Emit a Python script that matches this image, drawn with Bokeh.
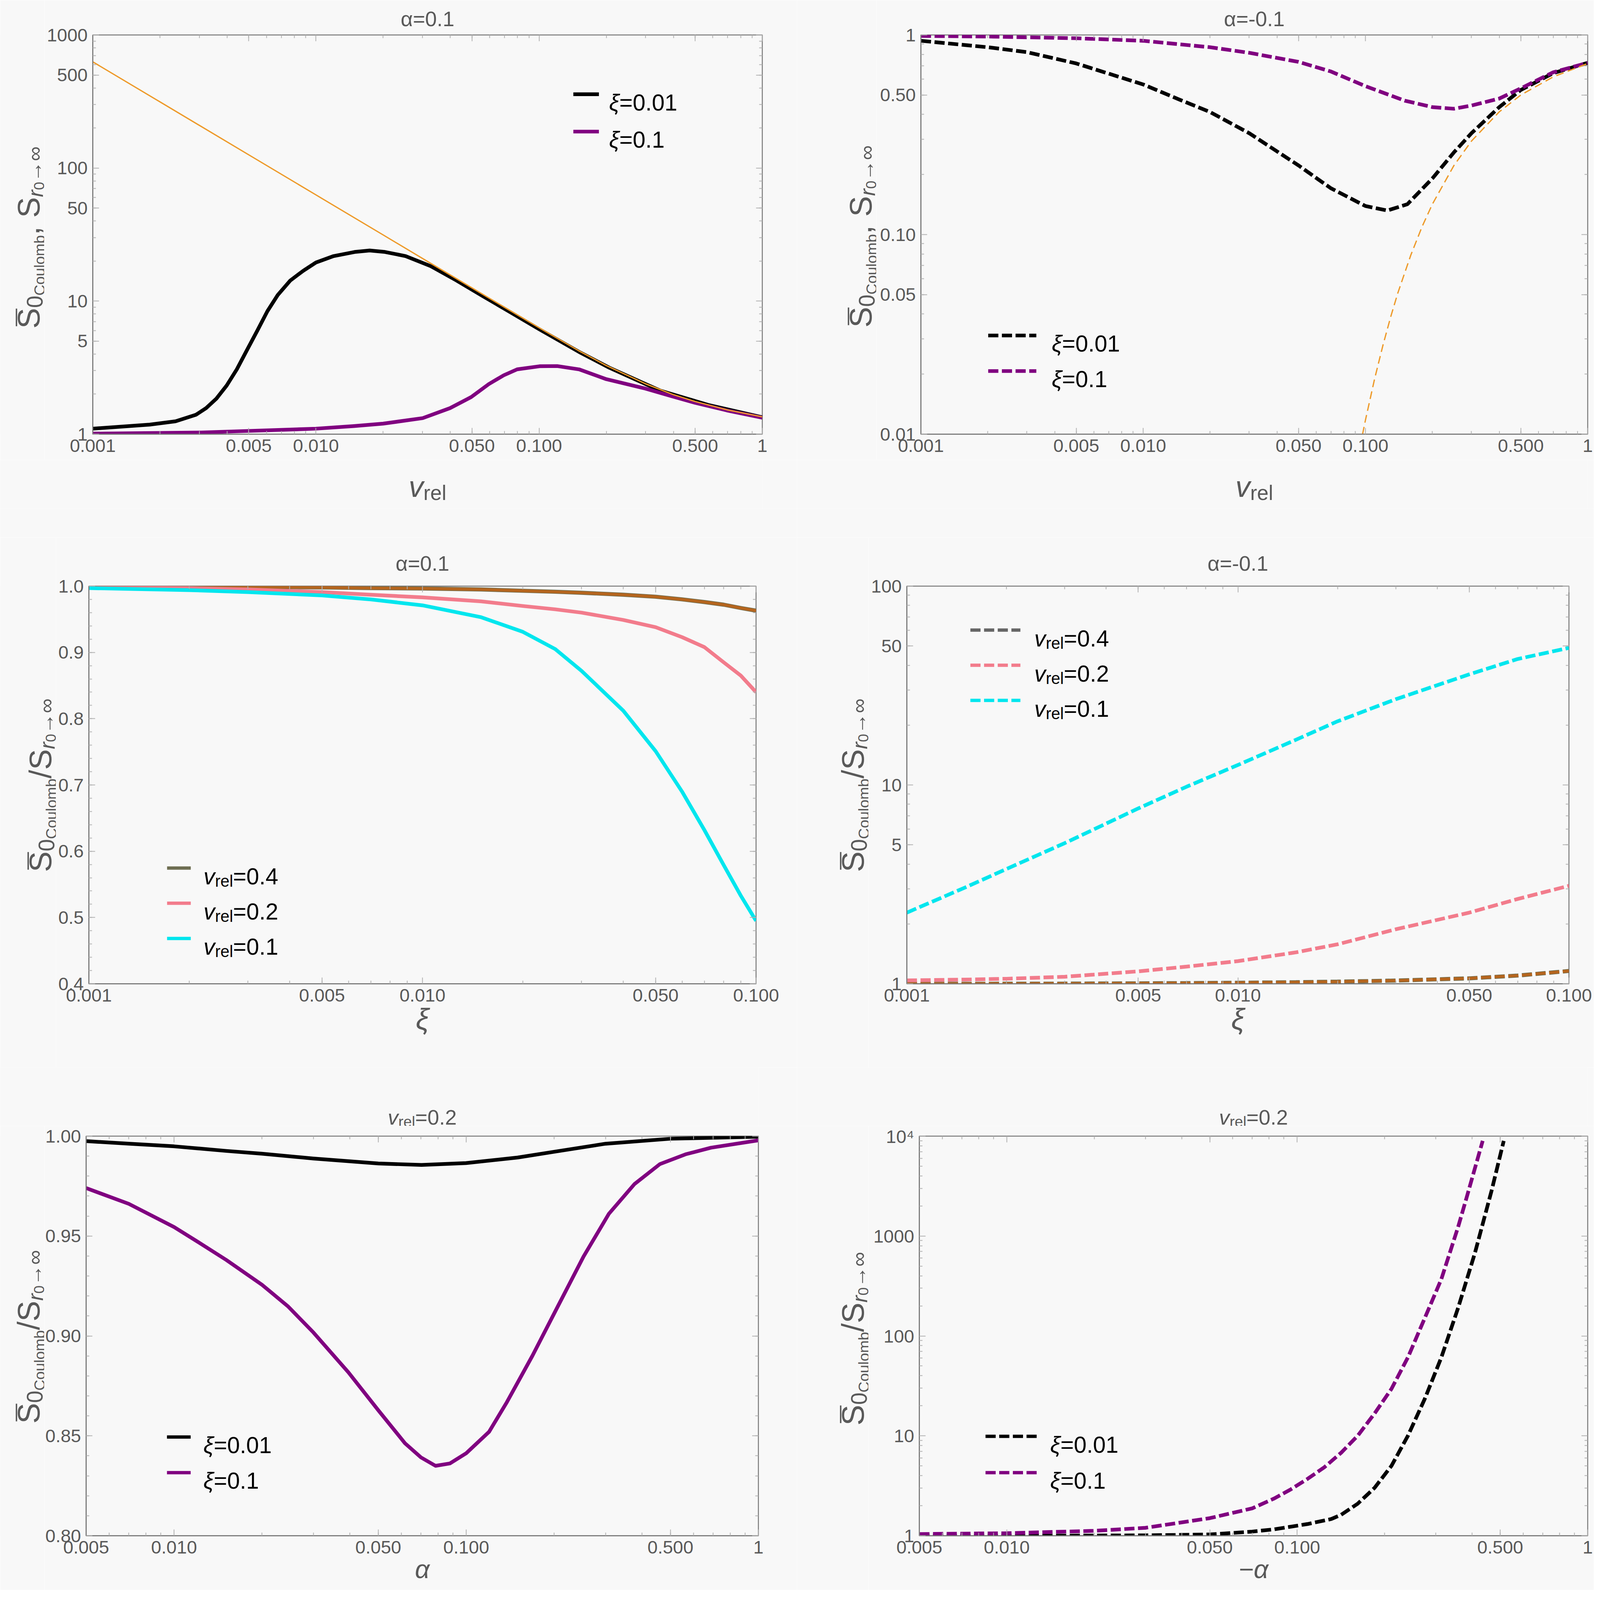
import math
from bokeh.plotting import figure
from bokeh.models import (Label, Arrow, FixedTicker, LogAxis, LinearAxis, Range1d, Title,
                          CustomJSTickFormatter)
from bokeh.layouts import column, row
from bokeh.embed import file_html
from bokeh.resources import INLINE

# ============================ DATA ============================
# Panel 1: alpha = 0.1, S vs v_rel
P1_V_SOMM = [0.001, 0.002, 0.005, 0.01, 0.02, 0.03, 0.05, 0.07, 0.1, 0.15, 0.2, 0.3, 0.4, 0.5, 0.7, 1.0]
P1_S_SOMM = [628.3, 314.2, 125.7, 62.83, 31.42, 20.94, 12.57, 8.98, 6.30, 4.25, 3.28, 2.39, 1.98, 1.76, 1.52, 1.35]
P1_V_XI001 = [0.001, 0.0018, 0.00235, 0.0029, 0.00322, 0.00358, 0.00398, 0.00442, 0.00491, 0.00546,
              0.00606, 0.00674, 0.00768, 0.00877, 0.01, 0.012, 0.0149, 0.0174, 0.0204, 0.0252,
              0.0327, 0.0426, 0.0554, 0.0721, 0.1, 0.151, 0.207, 0.35, 0.572, 1.0]
P1_S_XI001 = [1.10, 1.18, 1.25, 1.40, 1.57, 1.85, 2.32, 3.07, 4.29, 6.00,
              8.40, 11.1, 14.3, 16.9, 19.5, 21.8, 23.4, 24.0, 23.4, 21.8,
              18.3, 14.3, 11.0, 8.5, 6.15, 4.15, 3.15, 2.12, 1.66, 1.34]
P1_V_XI01 = [0.001, 0.00306, 0.00518, 0.01, 0.0148, 0.02, 0.0301, 0.0399, 0.0496, 0.0595, 0.0694,
             0.0797, 0.1005, 0.1205, 0.151, 0.2, 0.3, 0.388, 0.5, 0.692, 1.0]
P1_S_XI01 = [1.01, 1.03, 1.06, 1.10, 1.15, 1.20, 1.32, 1.57, 1.90, 2.38, 2.77,
             3.07, 3.24, 3.25, 3.07, 2.59, 2.20, 1.94, 1.72, 1.51, 1.33]

# Panel 2: alpha = -0.1, S vs v_rel
P2_V_SOMM = [0.097, 0.1, 0.11, 0.12, 0.13, 0.14, 0.16, 0.18, 0.2, 0.25, 0.3, 0.4, 0.5, 0.7, 1.0]
P2_S_SOMM = [0.00996, 0.01175, 0.01895, 0.0280, 0.0388, 0.0511, 0.0789, 0.1098, 0.1419, 0.2216,
             0.294, 0.412, 0.500, 0.617, 0.719]
P2_V_XI001 = [0.001, 0.002, 0.003, 0.005, 0.01, 0.0144, 0.02, 0.03, 0.05, 0.0697, 0.1, 0.1256,
              0.1545, 0.2, 0.25, 0.3, 0.4, 0.5, 0.7, 1.0]
P2_S_XI001 = [0.935, 0.868, 0.820, 0.720, 0.565, 0.477, 0.411, 0.322, 0.222, 0.171, 0.139, 0.132,
              0.142, 0.191, 0.258, 0.322, 0.435, 0.53, 0.644, 0.725]
P2_V_XI01 = [0.001, 0.002, 0.005, 0.01, 0.02, 0.03, 0.05, 0.07, 0.1, 0.15, 0.2, 0.25, 0.3, 0.4,
             0.5, 0.7, 1.0]
P2_S_XI01 = [0.989, 0.982, 0.963, 0.935, 0.868, 0.814, 0.733, 0.656, 0.554, 0.469, 0.435, 0.427,
             0.443, 0.48, 0.54, 0.65, 0.725]

# Panel 3: alpha = 0.1, ratio vs xi
P3_XI = [0.001, 0.002, 0.003, 0.005, 0.007, 0.01, 0.015, 0.02, 0.025, 0.03, 0.04, 0.05, 0.06,
         0.07, 0.08, 0.09, 0.1]
P3_V04 = [1.000, 0.9995, 0.999, 0.998, 0.997, 0.9965, 0.995, 0.993, 0.9915, 0.990, 0.987, 0.984,
          0.980, 0.976, 0.972, 0.967, 0.9630]
P3_V02 = [0.999, 0.997, 0.995, 0.991, 0.987, 0.983, 0.977, 0.970, 0.965, 0.960, 0.949, 0.938,
          0.923, 0.908, 0.885, 0.865, 0.840]
P3_V01 = [0.997, 0.994, 0.991, 0.986, 0.980, 0.971, 0.953, 0.931, 0.905, 0.872, 0.812, 0.751,
          0.690, 0.632, 0.579, 0.533, 0.495]

# Panel 4: alpha = -0.1, ratio vs xi
P4_XI = [0.001, 0.0015, 0.002, 0.003, 0.005, 0.007, 0.01, 0.015, 0.02, 0.03, 0.05, 0.07, 0.1]
P4_V04 = [1.0, 1.0, 1.001, 1.002, 1.005, 1.008, 1.012, 1.018, 1.025, 1.038, 1.065, 1.10, 1.16]
P4_V02 = [1.04, 1.05, 1.06, 1.085, 1.155, 1.22, 1.30, 1.44, 1.58, 1.88, 2.28, 2.67, 3.11]
P4_V01 = [2.28, 3.05, 3.78, 5.10, 7.62, 9.8, 12.6, 16.9, 20.9, 27.0, 36.0, 43.0, 48.9]

# Panel 5: v_rel = 0.2, ratio vs alpha
P5_A_XI001 = [0.005, 0.00706, 0.01, 0.0151, 0.02, 0.0299, 0.05, 0.0703, 0.0998, 0.15, 0.2005,
              0.2997, 0.5, 1.0]
P5_R_XI001 = [0.9975, 0.9962, 0.9949, 0.9926, 0.9912, 0.9888, 0.9863, 0.9856, 0.9865, 0.9893,
              0.9922, 0.9962, 0.9987, 0.9997]
P5_A_XI01 = [0.005, 0.007, 0.01, 0.0123, 0.0151, 0.02, 0.0245, 0.03, 0.0395, 0.05, 0.0617, 0.07,
             0.0785, 0.088, 0.1, 0.1197, 0.1378, 0.1685, 0.206, 0.252, 0.308, 0.3765, 0.46,
             0.563, 0.688, 1.0]
P5_R_XI01 = [0.974, 0.9661, 0.9545, 0.9463, 0.938, 0.9256, 0.9149, 0.9017, 0.8818, 0.8628, 0.8463,
             0.8392, 0.835, 0.8362, 0.8413, 0.852, 0.8669, 0.8901, 0.9149, 0.9397, 0.9612, 0.976,
             0.986, 0.9909, 0.9942, 0.9979]

# Panel 6: v_rel = 0.2, ratio vs -alpha
P6_A_XI001 = [0.005, 0.01, 0.02, 0.03, 0.05, 0.07, 0.0833, 0.1085, 0.131, 0.1416, 0.1614, 0.1845,
              0.211, 0.2404, 0.2746, 0.3134, 0.358, 0.409, 0.467, 0.514]
P6_R_XI001 = [1.0, 1.0, 1.005, 1.01, 1.03, 1.10, 1.16, 1.31, 1.47, 1.62, 2.09, 3.01, 5.0, 10.0,
              23.3, 60.9, 191, 676, 2858, 8970]
P6_A_XI01 = [0.005, 0.01, 0.02, 0.03, 0.05, 0.07, 0.0833, 0.095, 0.1085, 0.124, 0.1416, 0.1614,
             0.1845, 0.211, 0.2404, 0.2746, 0.3134, 0.358, 0.3825, 0.435]
P6_R_XI01 = [1.04, 1.06, 1.12, 1.2, 1.5, 1.88, 2.36, 2.91, 3.71, 4.85, 6.77, 10.0, 16.7, 29.5,
             60.9, 150, 370, 1233, 2400, 8970]

# Tick labels
TK_V = [0.001, 0.005, 0.01, 0.05, 0.1, 0.5, 1.0]
TL_V = ["0.001", "0.005", "0.010", "0.050", "0.100", "0.500", "1"]
TK_XI = [0.001, 0.005, 0.01, 0.05, 0.1]
TL_XI = ["0.001", "0.005", "0.010", "0.050", "0.100"]
TK_A = [0.005, 0.01, 0.05, 0.1, 0.5, 1.0]
TL_A = ["0.005", "0.010", "0.050", "0.100", "0.500", "1"]
TK_Y1 = [1, 5, 10, 50, 100, 500, 1000]
TL_Y1 = ["1", "5", "10", "50", "100", "500", "1000"]
TK_Y2 = [0.01, 0.05, 0.1, 0.5, 1.0]
TL_Y2 = ["0.01", "0.05", "0.10", "0.50", "1"]
TK_Y3 = [0.4, 0.5, 0.6, 0.7, 0.8, 0.9, 1.0]
TL_Y3 = ["0.4", "0.5", "0.6", "0.7", "0.8", "0.9", "1.0"]
TK_Y4 = [1, 5, 10, 50, 100]
TL_Y4 = ["1", "5", "10", "50", "100"]
TK_Y5 = [0.80, 0.85, 0.90, 0.95, 1.00]
TL_Y5 = ["0.80", "0.85", "0.90", "0.95", "1.00"]
TK_Y6 = [1, 10, 100, 1000, 10000]
TL_Y6 = ["1", "10", "100", "1000", "10\u2074"]

# ============================ STYLE / GEOMETRY ============================
KX = 4096.0 / 4255.0      # page px per reference px, horizontally
KY = 4096.0 / 4410.0      # page px per reference px, vertically
KF = 0.945                # font / stroke scale


def cx(v):
    return KX * v - 8.0


def cy(v):
    return KY * v - 8.0


def fs(s):
    return f"{s * KF:.1f}px"


FONT = "Liberation Sans"
BG = "#F8F8F8"
GRAY = "#595959"
FRAME = "#7A7A7A"
TICKC = "#B0B0B0"
BLACK = "#000000"
PURPLE = "#800080"
ORANGE = "#EE9A2A"
BROWN = "#B5651E"
OLIVE = "#6E6E52"
PINK = "#F27C8C"
CYAN = "#00E6EE"
DASH = "26 9"
LW = 10 * KF
TICK_FS = 47.0
ASC, DESC = 0.905, 0.212

WID = {'.': .278, '=': .584, '-': .333, '\u2212': .584, ',': .278, ' ': .278, '/': .278,
       'S': .667, 'C': .722, 'o': .556, 'u': .556, 'l': .222, 'm': .833, 'b': .556, 'r': .333,
       'e': .556, 'v': .5, '\u03b1': .578, '\u03be': .45, '\u2192': 1.0, '\u221e': .713,
       '\u00af': .552}

COLS = [(0, 2040), (2040, 4080)]
ROWS = [(0, round(cy(1410))), (round(cy(1410)), round(cy(2950))), (round(cy(2950)), 4070)]


def tw(text, size):
    return sum(WID.get(ch, .556) for ch in text) * size * KF


def log_minors(lo_exp, hi_exp):
    out = []
    for e in range(lo_exp, hi_exp):
        for m in range(2, 10):
            out.append(m * 10.0 ** e)
    return out


def fmt(ticks, labels):
    return CustomJSTickFormatter(args=dict(t=ticks, l=labels), code="""
        let best = 0, bd = Infinity;
        for (let i = 0; i < t.length; i++) {
            const d = Math.abs(tick - t[i]) / Math.abs(t[i]);
            if (d < bd) { bd = d; best = i; }
        }
        return l[best];
    """)


def prep(f):
    f.title.text = ""
    f.title.text_font_size = "0px"
    f.title.standoff = 0
    f.title.offset = 0
    if "frame_align" in f.properties():
        f.frame_align = False


def style_axis(ax, ticker, formatter, show):
    ax.ticker = ticker
    ax.formatter = formatter
    ax.axis_line_color = FRAME if show else None
    ax.axis_line_width = 2.5
    ax.major_tick_in = 16
    ax.major_tick_out = 0
    ax.minor_tick_in = 8
    ax.minor_tick_out = 0
    ax.major_tick_line_color = TICKC
    ax.minor_tick_line_color = TICKC
    ax.major_tick_line_width = 2
    ax.minor_tick_line_width = 2
    ax.major_label_text_font = FONT
    ax.major_label_text_font_size = f"{TICK_FS}px" if show else "0px"
    ax.major_label_text_color = GRAY
    ax.major_label_standoff = 13 if show else 0


def textfig(w, h, tloc, bl=0, br=0, bt=0, bb=0):
    f = figure(width=int(w), height=int(h), x_axis_location=None,
               y_axis_location=None, toolbar_location=None, output_backend="svg",
               min_border_left=bl, min_border_right=br, min_border_top=bt,
               min_border_bottom=bb, min_border=0,
               background_fill_color=BG, border_fill_color=BG, title_location=tloc)
    prep(f)
    f.outline_line_color = None
    return f


def rich(p, pieces, x, y, rotate=False, center=False, color=GRAY):
    def adv(pc):
        return pc[4] * KF if len(pc) > 4 else tw(pc[0], pc[1])
    total = sum(adv(pc) for pc in pieces)
    pos = -total / 2.0 if center else 0.0
    for pc in pieces:
        t, s, it, sh = pc[:4]
        off = pc[5] * KF if len(pc) > 5 else 0.0
        a = pos + off
        if rotate:
            lx, ly, ang = x - sh * KF, y + a, math.pi / 2
        else:
            lx, ly, ang = x + a, y + sh * KF, 0.0
        p.add_layout(Label(x=lx, y=ly, x_units="screen", y_units="screen", text=t,
                           text_font=FONT, text_font_size=fs(s),
                           text_font_style="italic" if it else "normal",
                           text_color=color, text_align="left", text_baseline="alphabetic",
                           angle=ang))
        pos += adv(pc)


def leg(p, x0, x1, xt, rows, size=62):
    for (y, color, width, dash, pieces) in rows:
        p.add_layout(Arrow(end=None, x_start=x0 * KX, y_start=y * KY, x_end=x1 * KX,
                           y_end=y * KY, start_units="screen", end_units="screen",
                           line_color=color, line_width=width * KF, line_dash=dash))
        rich(p, pieces, xt * KX, y * KY - 0.36 * size * KF, color=BLACK)


TITLE_FS = 57
T_VREL = [("v", TITLE_FS, True, 0), ("rel", 41, False, -12), ("=0.2", TITLE_FS, False, 0)]
X_VREL = [("v", 80, True, 0), ("rel", 56, False, -17)]


def ylab(sep):
    return [("\u00af", 84, False, 0, 0, 7), ("S", 84, False, 0), ("0", 60, False, -16),
            ("Coulomb", 41, False, -30), (sep, 84, False, 0), ("S", 84, False, 0),
            ("r", 58, True, -18), ("0", 40, False, -28), ("\u2192\u221e", 56, False, -16)]


def xi_leg(val):
    return [("\u03be", 62, True, 0), ("=" + val, 62, False, 0)]


def v_leg(val):
    return [("v", 62, True, 0), ("rel", 44, False, -13), ("=" + val, 62, False, 0)]


def build_cell(frame, col, rw, bx_orig, ystart, title, t_off, xlab, x_off, ysep,
               xr, yr, xlog, ylog, xt, xl, xm, yt, yl, ym, dy=0, xlab_size=80):
    cx0, cx1 = COLS[col]
    cy0, cy1 = ROWS[rw]
    W, H = cx1 - cx0, cy1 - cy0
    fl = round(cx(frame[0]) - cx0)
    fr = round(cx(frame[1]) - cx0)
    ft = round(cy(frame[2]) - cy0 + dy)
    fb = round(cy(frame[3]) - cy0 + dy)
    bx = max(round(cx(bx_orig) - cx0), 73)
    Lw = bx + 40
    title_obj = isinstance(title, str)
    xlab_axis = isinstance(xlab, str)
    tsz = TITLE_FS * KF
    th = 1.16 * tsz
    if title_obj:
        so_want = 2.0 * (t_off * KY - DESC * tsz)
        top_b = int(min(ft, round(2 + th + so_want + 1)))
        so = int(max(0, top_b - 2 - th - 1))
    else:
        top_b = 26
    Ht = ft - top_b
    bot_b = (H - fb) if xlab_axis else 66
    Hb = 0 if xlab_axis else H - fb - bot_b
    Hm = H - Ht - Hb
    p = figure(width=W - Lw, height=Hm, x_range=Range1d(*xr), y_range=Range1d(*yr),
               x_axis_type="log" if xlog else "linear",
               y_axis_type="log" if ylog else "linear",
               output_backend="svg", toolbar_location=None,
               min_border_left=fl - Lw, min_border_right=W - fr,
               min_border_top=top_b, min_border_bottom=bot_b,
               background_fill_color=BG, border_fill_color=BG)
    prep(p)
    p.xgrid.visible = False
    p.ygrid.visible = False
    p.outline_line_color = FRAME
    p.outline_line_width = 2.5
    xtk = FixedTicker(ticks=xt, minor_ticks=xm)
    ytk = FixedTicker(ticks=yt, minor_ticks=ym)
    bax = p.xaxis[0]
    style_axis(bax, xtk, fmt(xt, xl), True)
    style_axis(p.yaxis[0], ytk, fmt(yt, yl), True)
    top = LogAxis() if xlog else LinearAxis()
    style_axis(top, xtk, CustomJSTickFormatter(code="return '';"), False)
    p.add_layout(top, "above")
    rgt = LogAxis() if ylog else LinearAxis()
    style_axis(rgt, ytk, CustomJSTickFormatter(code="return '';"), False)
    p.add_layout(rgt, "right")

    parts = []
    if title_obj:
        p.title = Title(text=title, align="center", vertical_align="bottom", text_font=FONT,
                        text_font_size=f"{tsz:.1f}px", text_font_style="normal",
                        text_color=GRAY, standoff=so)
        p.title_location = "above"
        if Ht > 0:
            parts.append(textfig(W, Ht, "left"))
    else:
        tfig = textfig(W, Ht, "left", br=W - fr)
        t_base = t_off * KY - top_b
        t_base = min(max(t_base, DESC * tsz + 0.5), Ht - ASC * tsz - 1)
        rich(tfig, title, (fl + fr) / 2.0, t_base, center=True)
        parts.append(tfig)

    lfig = textfig(Lw, Hm, "left", bt=top_b, bb=bot_b)
    rich(lfig, ylab(ysep), bx, ystart * KY, rotate=True)
    parts.append(row(lfig, p))

    if xlab_axis:
        bax.axis_label = xlab
        bax.axis_label_text_font = FONT
        bax.axis_label_text_font_size = f"{xlab_size * KF:.1f}px"
        bax.axis_label_text_font_style = "italic"
        bax.axis_label_text_color = GRAY
        bax.axis_label_standoff = 0
    else:
        bfig = textfig(W, Hb, "left", br=W - fr)
        xsz = 80 * KF
        x_base = H - fb - x_off * KY
        x_base = max(min(x_base, Hb - ASC * xsz), DESC * xsz + 1)
        rich(bfig, xlab, (fl + fr) / 2.0, x_base, center=True)
        parts.append(bfig)
    return p, column(*parts)


MIN_V = log_minors(-3, 0)
MIN_XI = log_minors(-3, -1)
MIN_A = [0.006, 0.007, 0.008, 0.009] + log_minors(-2, 0)

# ============================ PANEL 1 ============================
p1, c1 = build_cell((255, 2035, 104, 1205), 0, 0, 78, 291, "\u03b1=0.1", 42, X_VREL, 134, ", ",
                    (0.001, 1), (1, 1000), True, True, TK_V, TL_V, MIN_V, TK_Y1, TL_Y1,
                    log_minors(0, 3))
p1.line(P1_V_XI001, P1_S_XI001, line_color=BLACK, line_width=LW, line_join="round")
p1.line(P1_V_XI01, P1_S_XI01, line_color=PURPLE, line_width=LW, line_join="round")
p1.line(P1_V_SOMM, P1_S_SOMM, line_color=ORANGE, line_width=3.5 * KF)
leg(p1, 1278, 1346, 1373, [(937, BLACK, 10, "solid", xi_leg("0.01")),
                           (834, PURPLE, 10, "solid", xi_leg("0.1"))])

# ============================ PANEL 2 ============================
p2, c2 = build_cell((2457, 4230, 104, 1205), 1, 0, 2297, 294, "\u03b1=-0.1", 42, X_VREL, 134,
                    ", ", (0.001, 1), (0.01, 1), True, True, TK_V, TL_V, MIN_V, TK_Y2, TL_Y2,
                    log_minors(-2, 0))
p2.line(P2_V_XI001, P2_S_XI001, line_color=BLACK, line_width=LW, line_dash=DASH)
p2.line(P2_V_XI01, P2_S_XI01, line_color=PURPLE, line_width=LW, line_dash=DASH)
p2.line(P2_V_SOMM, P2_S_SOMM, line_color=ORANGE, line_width=3.5 * KF, line_dash="20 11")
leg(p2, 179, 307, 348, [(272, BLACK, 10, DASH, xi_leg("0.01")),
                        (174, PURPLE, 10, DASH, xi_leg("0.1"))])

# ============================ PANEL 3 ============================
p3, c3 = build_cell((244, 2018, 1624, 2720), 0, 1, 115, 308, "\u03b1=0.1", 44, "\u03be", 145, "/",
                    (0.001, 0.1), (0.4, 1.0), True, False, TK_XI, TL_XI, MIN_XI, TK_Y3, TL_Y3,
                    [0.42 + 0.02 * i for i in range(29)])
p3.line(P3_XI, P3_V04, line_color=OLIVE, line_width=11 * KF, line_join="round")
p3.line(P3_XI, P3_V04, line_color=BROWN, line_width=8 * KF, line_join="round")
p3.line(P3_XI, P3_V02, line_color=PINK, line_width=LW, line_join="round")
p3.line(P3_XI, P3_V01, line_color=CYAN, line_width=LW, line_join="round")
leg(p3, 208, 271, 305, [(319, OLIVE, 9, "solid", v_leg("0.4")),
                        (222, PINK, 9, "solid", v_leg("0.2")),
                        (125, CYAN, 9, "solid", v_leg("0.1"))])

# ============================ PANEL 4 ============================
p4, c4 = build_cell((2419, 4180, 1624, 2720), 1, 1, 2276, 308, "\u03b1=-0.1", 44, "\u03be", 145,
                    "/", (0.001, 0.1), (1, 100), True, True, TK_XI, TL_XI, MIN_XI, TK_Y4, TL_Y4,
                    log_minors(0, 2))
p4.line(P4_XI, P4_V04, line_color=OLIVE, line_width=11 * KF, line_dash=DASH)
p4.line(P4_XI, P4_V04, line_color=BROWN, line_width=8 * KF, line_dash=DASH)
p4.line(P4_XI, P4_V02, line_color=PINK, line_width=LW, line_dash=DASH)
p4.line(P4_XI, P4_V01, line_color=CYAN, line_width=LW, line_dash=DASH)
leg(p4, 169, 302, 339, [(975, "#666666", 9, DASH, v_leg("0.4")),
                        (878, PINK, 9, DASH, v_leg("0.2")),
                        (781, CYAN, 9, DASH, v_leg("0.1"))])

# ============================ PANEL 5 ============================
p5, c5 = build_cell((237, 2025, 3167, 4269), 0, 2, 78, 309, T_VREL, 52, "\u03b1", 136, "/",
                    (0.005, 1), (0.8, 1.0), True, False, TK_A, TL_A, MIN_A, TK_Y5, TL_Y5,
                    [0.81 + 0.01 * i for i in range(19)], dy=-26, xlab_size=70)
p5.line(P5_A_XI001, P5_R_XI001, line_color=BLACK, line_width=LW, line_join="round")
p5.line(P5_A_XI01, P5_R_XI01, line_color=PURPLE, line_width=LW, line_join="round")
leg(p5, 215, 278, 312, [(272, BLACK, 9, "solid", xi_leg("0.01")),
                        (174, PURPLE, 9, "solid", xi_leg("0.1"))])

# ============================ PANEL 6 ============================
p6, c6 = build_cell((2453, 4230, 3167, 4269), 1, 2, 2276, 304, T_VREL, 52, "\u2212\u03b1", 136,
                    "/", (0.005, 1), (1, 10000), True, True, TK_A, TL_A, MIN_A, TK_Y6, TL_Y6,
                    log_minors(0, 4), dy=-26, xlab_size=70)
p6.line(P6_A_XI001, P6_R_XI001, line_color=BLACK, line_width=LW, line_dash=DASH)
p6.line(P6_A_XI01, P6_R_XI01, line_color=PURPLE, line_width=LW, line_dash=DASH)
leg(p6, 176, 312, 348, [(274, BLACK, 9, DASH, xi_leg("0.01")),
                        (174, PURPLE, 9, DASH, xi_leg("0.1"))])

layout = column(row(c1, c2), row(c3, c4), row(c5, c6))
open("out.html", "w").write(file_html(layout, INLINE))
